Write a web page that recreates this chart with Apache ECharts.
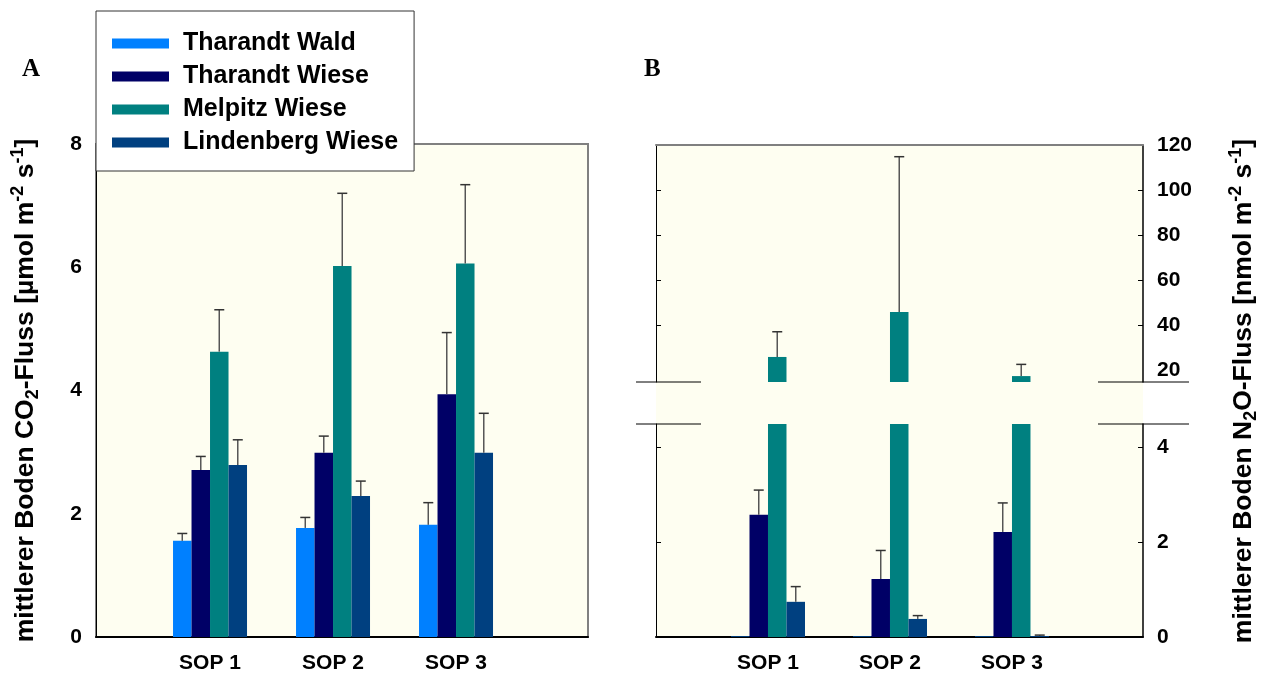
<!DOCTYPE html>
<html><head><meta charset="utf-8">
<script src="https://cdn.jsdelivr.net/npm/echarts@6/dist/echarts.min.js"></script>
<style>html,body{margin:0;padding:0;background:#fff}#c{width:1264px;height:677px}</style>
</head><body><div id="c"></div>
<script>
// ---------- data ----------
const categories = ['SOP 1', 'SOP 2', 'SOP 3'];
const seriesNames = ['Tharandt Wald', 'Tharandt Wiese', 'Melpitz Wiese', 'Lindenberg Wiese'];
const seriesColors = ['#0080FF', '#000066', '#008080', '#004080'];

// Panel A: CO2 flux [µmol m-2 s-1]
const co2Wald = [1.56, 1.77, 1.82];
const co2WaldErr = [0.12, 0.17, 0.36];
const co2TharWiese = [2.71, 2.99, 3.94];
const co2TharWieseErr = [0.22, 0.27, 1.00];
const co2Melpitz = [4.63, 6.02, 6.06];
const co2MelpitzErr = [0.68, 1.18, 1.28];
const co2Linden = [2.79, 2.29, 2.99];
const co2LindenErr = [0.41, 0.24, 0.64];

// Panel B: N2O flux [nmol m-2 s-1]
const n2oWald = [0.01, 0.01, 0.01];
const n2oWaldErr = [0, 0, 0];
const n2oTharWiese = [2.57, 1.22, 2.21];
const n2oTharWieseErr = [0.52, 0.60, 0.61];
const n2oMelpitz = [25.8, 45.8, 17.3];
const n2oMelpitzErr = [11.2, 69.0, 5.2];
const n2oLinden = [0.74, 0.38, 0.02];
const n2oLindenErr = [0.32, 0.07, 0.02];

const co2Ticks = [0, 2, 4, 6, 8];
const n2oUpperTicks = [20, 40, 60, 80, 100, 120];
const n2oLowerTicks = [0, 2, 4];

// ---------- layout constants ----------
const BAR_W = 18.5, CAP = 5;
const A = {left: 96, top: 144, width: 492, height: 493};
const BU = {left: 656, top: 145, width: 487, height: 237};
const BL = {left: 656, top: 424, width: 487, height: 213};
const BF = {left: 656, top: 145, width: 487, height: 492};
const BG = '#FEFEF1';
const FONT = 'Liberation Sans, Arial, sans-serif';

const co2 = [co2Wald, co2TharWiese, co2Melpitz, co2Linden];
const co2Err = [co2WaldErr, co2TharWieseErr, co2MelpitzErr, co2LindenErr];
const n2o = [n2oWald, n2oTharWiese, n2oMelpitz, n2oLinden];
const n2oErr = [n2oWaldErr, n2oTharWieseErr, n2oMelpitzErr, n2oLindenErr];

function pts(vals) { return vals.map((v, i) => [i + 1, v]); }
function errPts(vals, errs) { return vals.map((v, i) => [i + 1, v, errs[i]]); }

function errRender(idx) {
  return function (params, api) {
    const x = api.value(0), v = api.value(1), e = api.value(2);
    if (!e) return null;
    const p0 = api.coord([x, v]);
    const p1 = api.coord([x, v + e]);
    const cx = p0[0] + (idx - 1.5) * BAR_W;
    return {
      type: 'group', children: [
        {type: 'line', shape: {x1: cx, y1: p0[1], x2: cx, y2: p1[1]}, style: {stroke: '#555', lineWidth: 1.5}},
        {type: 'line', shape: {x1: cx - CAP, y1: p1[1], x2: cx + CAP, y2: p1[1]}, style: {stroke: '#333', lineWidth: 1.5}}
      ]
    };
  };
}

const labelStyle = {fontFamily: FONT, fontWeight: 'bold', fontSize: 21, color: '#000'};
const nameRich = {
  n: {fontFamily: FONT, fontWeight: 'bold', fontSize: 26.5, lineHeight: 33, color: '#000'},
  sub: {fontFamily: FONT, fontWeight: 'bold', fontSize: 18, lineHeight: 14, verticalAlign: 'bottom', color: '#000'},
  sup: {fontFamily: FONT, fontWeight: 'bold', fontSize: 18, lineHeight: 16, verticalAlign: 'top', color: '#000'}
};

const series = [];
seriesNames.forEach((name, i) => {
  series.push({name, type: 'bar', xAxisIndex: 0, yAxisIndex: 0, data: pts(co2[i]),
    barWidth: BAR_W, barGap: '0%', itemStyle: {color: seriesColors[i]}, clip: true});
  series.push({name, type: 'bar', xAxisIndex: 1, yAxisIndex: 2,
    data: n2o[i].map((v, k) => [k + 1, v > 14.67 ? v : '-']),
    barWidth: BAR_W, barGap: '0%', itemStyle: {color: seriesColors[i]}, clip: true});
  series.push({name, type: 'bar', xAxisIndex: 2, yAxisIndex: 4, data: pts(n2o[i]),
    barWidth: BAR_W, barGap: '0%', itemStyle: {color: seriesColors[i]}, clip: true});
});
seriesNames.forEach((name, i) => {
  series.push({type: 'custom', xAxisIndex: 0, yAxisIndex: 0, renderItem: errRender(i),
    data: errPts(co2[i], co2Err[i]), clip: true, z: 3, silent: true});
  const up = n2o[i].map((v, k) => [k + 1, v, n2oErr[i][k]]).filter(d => d[1] > 14.67);
  if (up.length) series.push({type: 'custom', xAxisIndex: 1, yAxisIndex: 2, renderItem: errRender(i),
    data: up, clip: true, z: 3, silent: true});
  const lo = n2o[i].map((v, k) => [k + 1, v, n2oErr[i][k]]).filter(d => d[1] <= 14.67);
  if (lo.length) series.push({type: 'custom', xAxisIndex: 2, yAxisIndex: 4, renderItem: errRender(i),
    data: lo, clip: true, z: 3, silent: true});
});

const catLabel = {show: true, customValues: [1, 2, 3], formatter: v => categories[Math.round(v) - 1] || '',
  margin: 16, fontFamily: FONT, fontWeight: 'bold', fontSize: 21, color: '#000'};

const option = {
  animation: false,
  title: [
    {text: 'A', left: 22, top: 57, padding: 0, textStyle: {fontFamily: 'Liberation Serif, Times New Roman, serif', fontWeight: 'bold', fontSize: 25, color: '#000'}},
    {text: 'B', left: 644, top: 57, padding: 0, textStyle: {fontFamily: 'Liberation Serif, Times New Roman, serif', fontWeight: 'bold', fontSize: 25, color: '#000'}}
  ],
  legend: {
    data: seriesNames, orient: 'vertical', left: 96, top: 11,
    padding: [20, 16, 16, 16], itemGap: 8, itemWidth: 57, itemHeight: 10, icon: 'rect',
    backgroundColor: '#fff', borderColor: '#333', borderWidth: 1,
    textStyle: {fontFamily: FONT, fontWeight: 'bold', fontSize: 25, lineHeight: 24.5, color: '#000', padding: [0, 0, 0, 9]},
    z: 10
  },
  grid: [
    Object.assign({show: true, backgroundColor: BG, borderColor: '#808080', borderWidth: 2}, A),
    Object.assign({show: false}, BU),
    Object.assign({show: false}, BL),
    Object.assign({show: true, backgroundColor: BG, borderWidth: 0}, BF)
  ],
  xAxis: [
    {type: 'value', gridIndex: 0, min: 0.073, max: 4.073, position: 'bottom',
      axisLine: {show: true, lineStyle: {color: '#000', width: 2}}, axisTick: {show: false},
      splitLine: {show: false}, axisLabel: catLabel},
    {type: 'value', gridIndex: 1, min: 0.082, max: 4.074, position: 'top',
      axisLine: {show: true, lineStyle: {color: '#808080', width: 2}}, axisTick: {show: false},
      splitLine: {show: false}, axisLabel: {show: false}},
    {type: 'value', gridIndex: 2, min: 0.082, max: 4.074, position: 'bottom',
      axisLine: {show: true, lineStyle: {color: '#000', width: 2}}, axisTick: {show: false},
      splitLine: {show: false}, axisLabel: catLabel},
    {type: 'value', gridIndex: 3, min: 0, max: 1, show: false}
  ],
  yAxis: [
    {type: 'value', gridIndex: 0, min: 0, max: 8, position: 'left',
      axisLine: {show: true, lineStyle: {color: '#000', width: 1}}, axisTick: {show: false},
      splitLine: {show: false},
      axisLabel: Object.assign({customValues: co2Ticks, margin: 14}, labelStyle),
      name: '{n|mittlerer Boden CO}{sub|2}{n|-Fluss [µmol m}{sup|-2}{n| s}{sup|-1}{n|]}',
      nameLocation: 'middle', nameRotate: 90, nameGap: 54, nameTextStyle: {rich: nameRich}},
    {type: 'value', gridIndex: 1, min: 14.67, max: 120, position: 'left',
      axisLine: {show: true, lineStyle: {color: '#000', width: 1}},
      axisTick: {show: true, inside: true, length: 5, customValues: [40, 60, 80, 100], lineStyle: {color: '#000'}},
      splitLine: {show: false}, axisLabel: {show: false}},
    {type: 'value', gridIndex: 1, min: 14.67, max: 120, position: 'right',
      axisLine: {show: true, lineStyle: {color: '#000', width: 1.5}},
      axisTick: {show: true, inside: true, length: 5, customValues: [40, 60, 80, 100], lineStyle: {color: '#000'}},
      splitLine: {show: false},
      axisLabel: Object.assign({customValues: n2oUpperTicks, margin: 14}, labelStyle)},
    {type: 'value', gridIndex: 2, min: 0, max: 4.48, position: 'left',
      axisLine: {show: true, lineStyle: {color: '#000', width: 1}},
      axisTick: {show: true, inside: true, length: 5, customValues: [2, 4], lineStyle: {color: '#000'}},
      splitLine: {show: false}, axisLabel: {show: false}},
    {type: 'value', gridIndex: 2, min: 0, max: 4.48, position: 'right',
      axisLine: {show: true, lineStyle: {color: '#000', width: 1.5}},
      axisTick: {show: true, inside: true, length: 5, customValues: [2, 4], lineStyle: {color: '#000'}},
      splitLine: {show: false},
      axisLabel: Object.assign({customValues: n2oLowerTicks, margin: 14}, labelStyle)},
    {type: 'value', gridIndex: 3, min: 0, max: 1, position: 'right',
      axisLine: {show: false}, axisTick: {show: false}, axisLabel: {show: false}, splitLine: {show: false},
      name: '{n|mittlerer Boden N}{sub|2}{n|O-Fluss [nmol m}{sup|-2}{n| s}{sup|-1}{n|]}',
      nameLocation: 'middle', nameRotate: 90, nameGap: 84, nameTextStyle: {rich: nameRich}}
  ],
  graphic: [
    {type: 'line', shape: {x1: BU.left - 20, y1: BU.top + BU.height, x2: BU.left + 45, y2: BU.top + BU.height}, style: {stroke: '#000', lineWidth: 1}, z: 20},
    {type: 'line', shape: {x1: BL.left - 20, y1: BL.top, x2: BL.left + 45, y2: BL.top}, style: {stroke: '#000', lineWidth: 1}, z: 20},
    {type: 'line', shape: {x1: BU.left + BU.width - 45, y1: BU.top + BU.height, x2: BU.left + BU.width + 46, y2: BU.top + BU.height}, style: {stroke: '#000', lineWidth: 1}, z: 20},
    {type: 'line', shape: {x1: BL.left + BL.width - 45, y1: BL.top, x2: BL.left + BL.width + 46, y2: BL.top}, style: {stroke: '#000', lineWidth: 1}, z: 20}
  ],
  series
};

const chart = echarts.init(document.getElementById('c'), null, {renderer: 'canvas'});
chart.setOption(option);
</script>
</body></html>
